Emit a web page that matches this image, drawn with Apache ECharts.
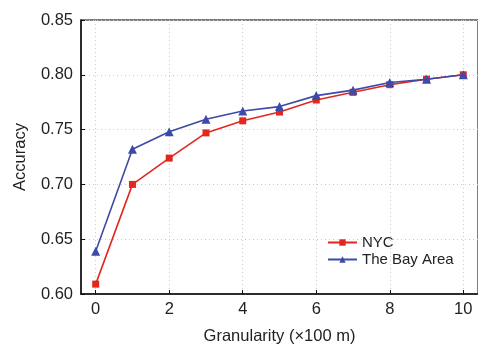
<!DOCTYPE html>
<html>
<head>
<meta charset="utf-8">
<script src="https://cdn.jsdelivr.net/npm/echarts@6/dist/echarts.min.js"></script>
<style>
  html, body { margin: 0; padding: 0; background: #fff; }
  #chart { width: 478px; height: 350px; }
</style>
</head>
<body>
<div id="chart"></div>
<script>
// granularity (x100 m)
var granularity = [0, 1, 2, 3, 4, 5, 6, 7, 8, 9, 10]
var nycAcc = [0.609, 0.700, 0.724, 0.747, 0.758, 0.766, 0.777, 0.784, 0.791, 0.796, 0.800]
var bayAcc = [0.639, 0.732, 0.748, 0.7595, 0.767, 0.771, 0.781, 0.786, 0.793, 0.796, 0.800]
var xTicks = [0, 2, 4, 6, 8, 10]

var myChart = echarts.init(document.getElementById('chart'))
var font = '"Liberation Sans", Arial, sans-serif'

function pairs (ys) {
  return granularity.map(function (x, i) { return [x, ys[i]] })
}

var option = {
  animation: false,
  textStyle: { fontFamily: font },
  grid: {
    left: 81,
    right: -2.5,
    top: 20,
    bottom: 52.3,
    show: true,
    borderColor: '#555',
    borderWidth: 1.5
  },
  legend: {
    orient: 'vertical',
    left: 322,
    top: 230,
    itemWidth: 29,
    itemHeight: 8,
    itemGap: 2,
    textStyle: { fontSize: 15, color: '#222', fontFamily: font },
    data: ['NYC', 'The Bay Area']
  },
  xAxis: {
    type: 'value',
    min: -0.4,
    max: 10.4,
    name: 'Granularity (×100 m)',
    nameLocation: 'middle',
    nameGap: 34,
    nameTextStyle: { fontSize: 16.5, color: '#222' },
    axisLine: { show: true, onZero: false, lineStyle: { color: '#111', width: 1.5 } },
    axisTick: { show: true, inside: true, length: 4, customValues: xTicks, lineStyle: { color: '#111' } },
    axisLabel: { customValues: xTicks, fontSize: 16.5, color: '#222', margin: 7 },
    splitLine: { show: true, lineStyle: { color: '#ccc', type: [1, 3] } }
  },
  yAxis: {
    type: 'value',
    min: 0.6,
    max: 0.85,
    interval: 0.05,
    name: 'Accuracy',
    nameLocation: 'middle',
    nameGap: 52,
    nameTextStyle: { fontSize: 16.5, color: '#222' },
    axisLine: { show: true, onZero: false, lineStyle: { color: '#111', width: 1.5 } },
    axisTick: { show: true, inside: true, length: 4, lineStyle: { color: '#111' } },
    axisLabel: {
      fontSize: 16.5,
      color: '#222',
      margin: 8,
      formatter: function (v) { return v.toFixed(2) }
    },
    splitLine: { show: true, lineStyle: { color: '#ccc', type: [1, 3] } }
  },
  series: [
    {
      name: 'NYC',
      type: 'line',
      data: pairs(nycAcc),
      color: '#e2281e',
      symbol: 'rect',
      symbolSize: 7,
      lineStyle: { width: 1.6 },
      itemStyle: { color: '#e2281e' },
      z: 3
    },
    {
      name: 'The Bay Area',
      type: 'line',
      data: pairs(bayAcc),
      color: '#3c4aa8',
      symbol: 'triangle',
      symbolSize: 9,
      lineStyle: { width: 1.6 },
      itemStyle: { color: '#3c4aa8' },
      z: 4
    }
  ]
}
myChart.setOption(option)
</script>
</body>
</html>
